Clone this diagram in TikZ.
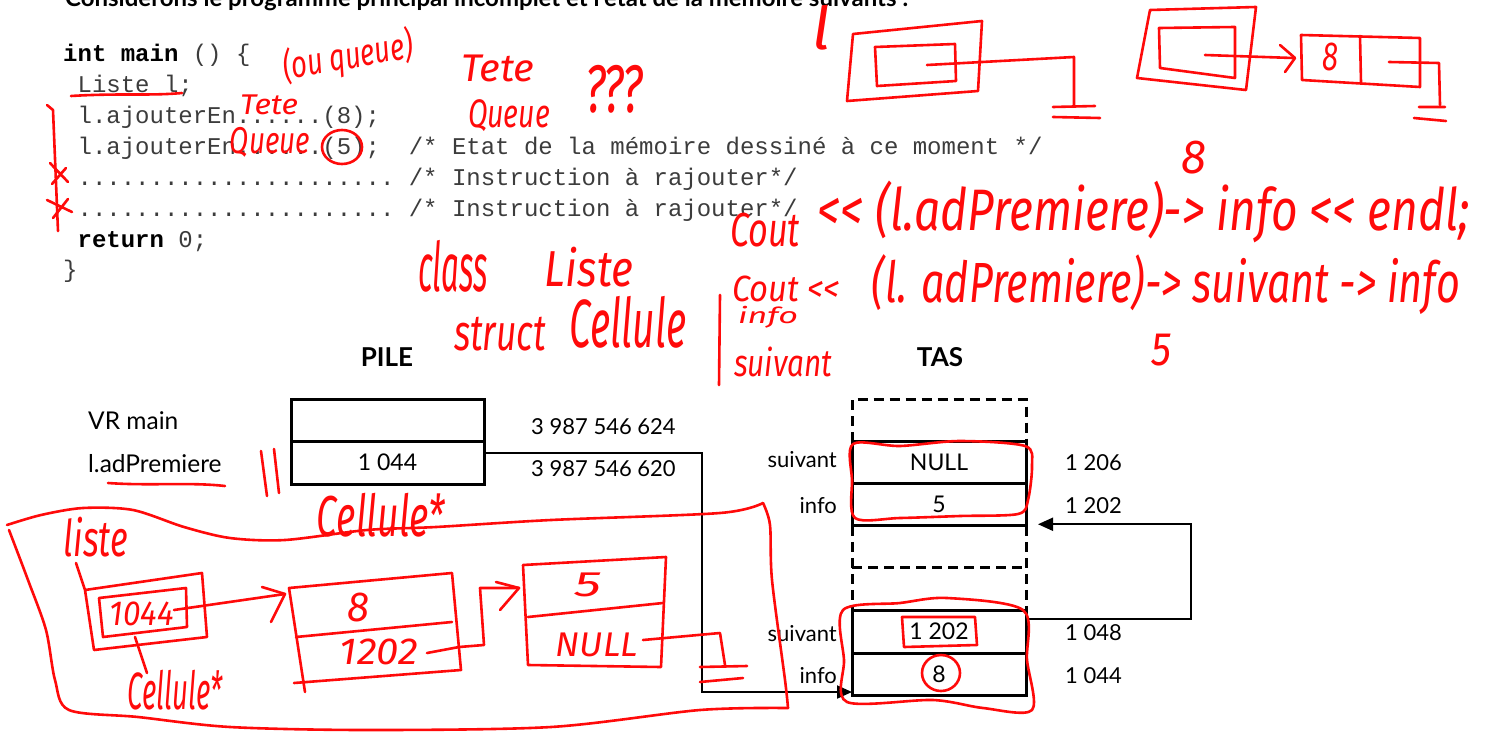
\documentclass[tikz,border=0pt]{standalone}
\usepackage{fontspec}
\usepackage{graphicx}
\usetikzlibrary{arrows.meta,calc}
\setmainfont{Lato}
\setmonofont{Liberation Mono}
\newfontfamily\handfont{Fira Sans}
\definecolor{codegray}{HTML}{3C3C3C}
\definecolor{pen}{HTML}{FF0A0A}
\newcommand\fs[1]{\fontsize{#1}{#1}\selectfont}
% handwritten word squeezed into a given box (width, total height)
\newcommand\hwr[3]{\resizebox*{#1pt}{#2pt}{\handfont\itshape #3}}

\begin{document}
\begin{tikzpicture}[x=1pt,y=-1pt,
  ink/.style={draw=pen, line width=2.6pt, line cap=round, line join=round},
  hand/.style={text=pen, inner sep=0pt, outer sep=0pt},
  code/.style={anchor=base west, inner sep=0pt, font=\ttfamily\fs{24}, text=codegray},
  cellbox/.style={draw=black, line width=3pt, inner sep=0pt, outer sep=0pt, minimum width=174pt, font=\fs{23}},
  lbl/.style={inner sep=0pt, font=\fs{22}},
  biglbl/.style={inner sep=0pt, font=\fs{24.5}},
  link/.style={draw=black, line width=2pt, -{Triangle[length=15pt,width=13pt]}},
  dashframe/.style={draw=black, line width=3pt, dash pattern=on 10pt off 6pt}
]
\useasboundingbox (0,0) rectangle (1490,736);
\fill[white] (0,0) rectangle (1490,736);

% ---------- heading line (cut by the page edge) ----------
\node[anchor=base west, inner sep=0pt, font=\bfseries\fs{24}] (intro) at (65,6)
  {Considérons le programme principal incomplet et l’état de la mémoire suivants :};

% ---------- program listing ----------
\node[code] (c1) at (63,61) {{\color{black}\bfseries int~main}~()~\{};
\node[code] (c2) at (77.4,92) {Liste~l;};
\node[code] (c3) at (77.4,123) {l.ajouterEn......(8);};
\node[code] (c4) at (77.4,154) {l.ajouterEn......(5);};
\node[code] (m4) at (408.6,154) {/*~Etat~de~la~mémoire~dessiné~à~ce~moment~*/};
\node[code] (c5) at (77.4,185) {......................};
\node[code] (m5) at (408.6,185) {/*~Instruction~à~rajouter*/};
\node[code] (c6) at (77.4,216) {......................};
\node[code] (m6) at (408.6,216) {/*~Instruction~à~rajouter*/};
\node[code] (c7) at (77.4,247) {{\color{black}\bfseries return}~0;};
\node[code] (c8) at (63,277) {\}};

% ---------- stack ----------
\node[font=\bfseries\fs{26}] (pile) at (387,357) {PILE};
\node[font=\bfseries\fs{26}] (tas) at (940,357) {TAS};

\node[cellbox, minimum width=193pt, minimum height=42pt] (vr) at (387.5,420) {};
\node[cellbox, minimum width=193pt, minimum height=43pt] (adp) at (387.5,462.5) {1 044};
\node[biglbl, anchor=west] (lvr) at (88,421) {VR main};
\node[biglbl, anchor=west] (ladp) at (88,464) {l.adPremiere};
\node[lbl, anchor=west] (a1) at (531,427) {3 987 546 624};
\node[lbl, anchor=west] (a2) at (531,469) {3 987 546 620};

% ---------- heap ----------
\node[cellbox, minimum height=42.3pt] (tnull) at (939,462.7) {NULL};
\node[cellbox, minimum height=41.9pt] (tfive) at (939,504.8) {5};
\node[cellbox, minimum height=43pt] (tptr) at (939,631.5) {1 202};
\node[cellbox, minimum height=42pt] (teight) at (939,674) {8};

\draw[dashframe] (tnull.north west) -- ($(tnull.north west)+(0,-42.5)$)
  -- ($(tnull.north east)+(0,-42.5)$) -- (tnull.north east);
\draw[dashframe] (tfive.south west) -- (tptr.north west);
\draw[dashframe] (tfive.south east) -- (tptr.north east);
\draw[dashframe] ($(tfive.south west)!0.5!(tptr.north west)$) -- ($(tfive.south east)!0.5!(tptr.north east)$);

\node[lbl, anchor=east] (s1) at (837,460) {suivant};
\node[lbl, anchor=east] (i1) at (837,506) {info};
\node[lbl, anchor=east] (s2) at (837,634) {suivant};
\node[lbl, anchor=east] (i2) at (837,676) {info};
\node[lbl, anchor=west] (h1) at (1065,463) {1 206};
\node[lbl, anchor=west] (h2) at (1065,506) {1 202};
\node[lbl, anchor=west] (h3) at (1065,633) {1 048};
\node[lbl, anchor=west] (h4) at (1065,676) {1 044};

\draw[link] ([yshift=10pt]adp.east) -- ++(218,0) |- ([yshift=3pt]teight.south west);
\draw[link] ([yshift=-9pt]tptr.north east) -- ++(165,0) |- ([xshift=12pt,yshift=1.5pt]tfive.south east);

% ---------- pen notes on the listing ----------
\draw[ink] (71,96) .. controls (120,93) and (150,96) .. (182,93);
\draw[ink] (47,105) -- (53,110) -- (58,231);
\draw[ink] (50,163) -- (68,182) (52,184) -- (66,168);
\draw[ink] (47,200) -- (72,212) (53,218) -- (68,199);
\draw[ink] (342,147) ellipse [x radius=20pt, y radius=17pt];
\node[hand, rotate=10] (n1) at (348,57) {\hwr{132}{40}{(ou queue)}};
\node[hand] (n2) at (269,105) {\hwr{58}{20}{Tete}};
\node[hand] (n3) at (270,142) {\hwr{80}{30}{Queue}};
\node[hand] (n4) at (498,68) {\hwr{73}{27}{Tete}};
\node[hand] (n5) at (509,116) {\hwr{82}{32}{Queue}};
\node[hand] (n6) at (614,89) {\hwr{58}{48}{???}};
\node[hand] (n7) at (453,266) {\hwr{70}{52}{class}};
\node[hand] (n8) at (589,267) {\hwr{88}{40}{Liste}};
\node[hand] (n9) at (500,334) {\hwr{92}{34}{struct}};
\node[hand] (n10) at (628,322) {\hwr{117}{52}{Cellule}};

% ---------- pen sketches, top right ----------
\node[hand] (n11) at (821,28) {\hwr{18}{45}{l}};
\draw[ink] (853,34) -- (982,21) -- (978,91) -- (847,101) -- cycle;
\draw[ink] (875,47) -- (955,44) -- (956,81) -- (877,86) -- cycle;
\draw[ink] (927,65) -- (1074,57) -- (1074,105);
\draw[ink] (1053,107) -- (1095,106) (1053,117) -- (1100,118);
\draw[ink] (1150,10) -- (1256,7) -- (1246,90) -- (1137,78) -- cycle;
\draw[ink] (1159,28) -- (1235,27) -- (1235,78) -- (1160,68) -- cycle;
\draw[ink] (1205,55) -- (1293,58);
\draw[ink] (1280,45) -- (1295,58) -- (1285,72);
\draw[ink] (1301,35) -- (1420,38) -- (1420,87) -- (1302,80) -- cycle;
\draw[ink] (1360,36) -- (1361,83);
\node[hand] (n12) at (1330,57) {\hwr{16}{28}{8}};
\draw[ink] (1389,62) -- (1439,63) -- (1440,105);
\draw[ink] (1419,107) -- (1445,107) (1414,118) -- (1446,121);

\node[hand] (n13) at (1194,158) {\hwr{25}{33}{8}};
\node[hand] (n14) at (765,230) {\hwr{70}{34}{Cout}};
\node[hand] (n15) at (1144,212) {\hwr{652}{62}{<{}< (l.adPremiere)-> info <{}< endl;}};
\node[hand] (n16) at (786,289) {\hwr{108}{26}{Cout <{}<}};
\node[hand] (n17) at (1166,285) {\hwr{588}{60}{(l. adPremiere)-> suivant -> info}};
\node[hand] (n18) at (768,317) {\hwr{60}{22}{info}};
\node[hand] (n19) at (783,362) {\hwr{98}{30}{suivant}};
\draw[ink] (720,295) -- (719,385);
\node[hand] (n20) at (1161,350) {\hwr{20}{32}{5}};

% ---------- pen sketches over the memory ----------
\draw[ink] (261,451) -- (267,496) (274,449) -- (279,493);
\draw[ink] (108,483) .. controls (150,486) and (190,482) .. (225,486);
\node[hand] (n21) at (381,515) {\hwr{128}{44}{Cellule*}};

% the "liste" enclosure
\draw[ink] plot[smooth] coordinates {(7,525) (41,515) (83,508) (133,510) (184,527) (230,538) (285,540) (367,530) (436,527) (551,520) (720,513) (763,503)};
\draw[ink] plot[smooth] coordinates {(763,503) (770,525) (772,580) (785,680) (788,708)};
\draw[ink] plot[smooth] coordinates {(788,708) (700,710) (551,727) (367,730) (230,727) (138,717) (69,710) (55,680) (46,630) (28,580) (9,530)};
\node[hand] (n22) at (96,537) {\hwr{64}{40}{liste}};

% first object: pointer holder
\draw[ink] (76,563) -- (85,590) -- (94,650) -- (207,637) -- (202,573) -- (85,590);
\draw[ink] (99,598) -- (186,588) -- (187,627) -- (103,637) -- cycle;
\node[hand] (n23) at (142,614) {\hwr{64}{24}{1044}};
\draw[ink] (174,610) -- (285,594);
\draw[ink] (262,587) -- (285,594) -- (271,622);
\draw[ink] (135,637) -- (147,673);
\node[hand] (n24) at (175,690) {\hwr{95}{40}{Cellule*}};

% cell 8 / 1202
\draw[ink] (305,692) -- (289,588) -- (452,573) -- (461,670) -- (294,683);
\draw[ink] (296,637) -- (452,622);
\node[hand] (n25) at (358,607) {\hwr{22}{29}{8}};
\node[hand] (n26) at (379,652) {\hwr{78}{26}{1202}};
\draw[ink] (427,653) -- (459,647) -- (484,645) -- (480,588) -- (519,588);
\draw[ink] (496,582) -- (519,588) -- (500,610);

% cell 5 / NULL
\draw[ink] (523,565) -- (666,557) -- (661,667) -- (528,665) -- cycle;
\draw[ink] (528,617) -- (663,603);
\node[hand] (n27) at (588,585) {\hwr{27}{24}{5}};
\node[hand] (n28) at (597,645) {\hwr{82}{24}{NULL}};
\draw[ink] (643,640) -- (720,633) -- (725,665);
\draw[ink] (700,667) -- (747,666) (700,682) -- (743,678);

% circled heap cells
\draw[ink] plot[smooth cycle] coordinates {(853,444) (900,446) (960,441) (1025,446) (1032,465) (1028,500) (1018,514) (960,516) (900,518) (855,518) (852,480)};
\draw[ink] plot[smooth cycle] coordinates {(843,610) (900,603) (947,598) (1023,610) (1027,660) (1032,710) (983,708) (933,700) (847,702) (844,660)};
\draw[ink] (902,617) -- (975,617) -- (977,645) -- (904,647) -- cycle;
\draw[ink] (941,673) ellipse [x radius=19pt, y radius=18pt];
\end{tikzpicture}
\end{document}
